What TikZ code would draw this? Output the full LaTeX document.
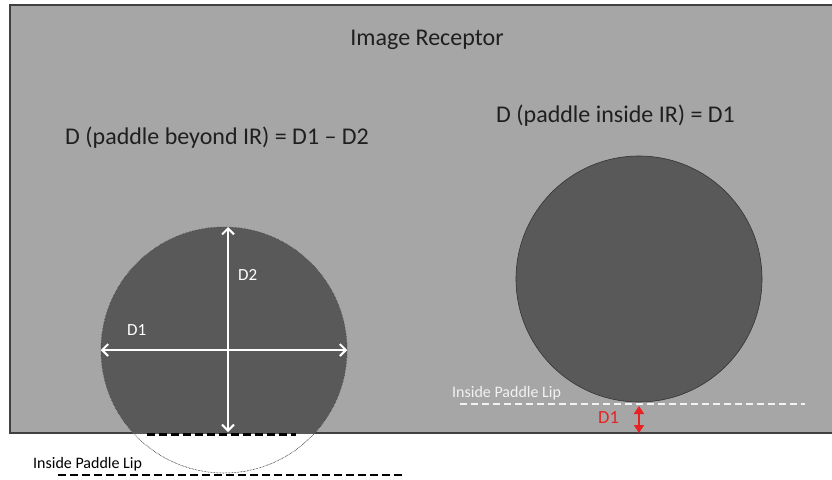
\documentclass[tikz,border=0pt]{standalone}
\usepackage{fontspec}
\setmainfont{Carlito}
\usetikzlibrary{arrows.meta,positioning}
\definecolor{IRGray}{RGB}{166,166,166}
\definecolor{BreastGray}{RGB}{89,89,89}
\definecolor{LipRed}{RGB}{232,34,34}
\definecolor{LipWhite}{RGB}{242,242,242}
\tikzset{
  breast/.style={
    circle,
    minimum size=246pt,
    inner sep=0pt
  },
  title/.style={font=\fontsize{24}{27}\selectfont,text=black!88,inner sep=0pt},
  small/.style={font=\fontsize{17}{19}\selectfont,inner sep=0pt},
  measure/.style={{Straight Barb[length=6pt,width=12pt]}-{Straight Barb[length=6pt,width=12pt]},white,line width=2pt},
  gap/.style={{Triangle[length=8pt,width=10pt]}-{Triangle[length=8pt,width=10pt]},LipRed,line width=2.6pt},
  lip/.style={line width=2.4pt,dash pattern=on 8pt off 4pt},
  outline/.style={draw=black!75,densely dotted,line width=0.5pt}
}

\begin{document}
\begin{tikzpicture}[x=1pt,y=-1pt]
\useasboundingbox (0,0) rectangle (832,479);

% Image receptor
\fill[IRGray] (10,5) rectangle (832,433);
\draw[black!75,line width=1.2pt] (832,5) -- (10,5) -- (10,433) -- (832,433);
\node[title,anchor=base] (irtitle) at (427,45) {Image Receptor};

% Left: paddle beyond IR
\node[title,anchor=base west] (lformula) at (65,144) {D (paddle beyond IR) = D1 -- D2};
\node[breast,fill=white,outline] (lbreast) at (224,350) {};
\begin{scope}
  \clip (10,5) rectangle (832,433);
  \fill[BreastGray] (lbreast.center) circle[radius=123pt];
\end{scope}
\draw[outline] (lbreast.center) circle[radius=123pt];
\coordinate (ltop) at (228,227);
\coordinate (lbot) at (228,432);
\draw[measure] (lbreast.west) -- (lbreast.east);
\draw[measure] (ltop) -- (lbot);
\node[small,text=white,anchor=base west] (ld2) at (238,280) {D2};
\node[small,text=white,anchor=base west] (ld1) at (127,335) {D1};
\coordinate (llipa) at (147,434);
\coordinate (llipb) at (296,434);
\draw[lip,line width=3pt] (llipa) -- (llipb);
\node[small,font=\fontsize{16}{18}\selectfont,anchor=base west] (llip) at (33,468) {Inside Paddle Lip};
\coordinate (lliplinea) at (58,475);
\coordinate (lliplineb) at (404,475);
\draw[lip,line width=2.6pt] (lliplinea) -- (lliplineb);

% Right: paddle inside IR
\node[title,anchor=base west] (rformula) at (496,122) {D (paddle inside IR) = D1};
\node[breast,fill=BreastGray,draw=black!80,line width=0.6pt] (rbreast) at (639,279) {};
\node[small,font=\fontsize{16}{18}\selectfont,text=LipWhite,anchor=base west] (rlip) at (452,397) {Inside Paddle Lip};
\coordinate (rliplinea) at (460,404);
\coordinate (rliplineb) at (805,404);
\draw[lip,LipWhite,dash pattern=on 7pt off 4pt] (rliplinea) -- (rliplineb);
\coordinate (rgaptop) at (639,406);
\coordinate (rgapbot) at (639,433);
\draw[gap] (rgaptop) -- (rgapbot);
\node[small,font=\fontsize{18.5}{20}\selectfont,text=LipRed,anchor=base west] (rd1) at (598,423) {D1};

\end{tikzpicture}
\end{document}
